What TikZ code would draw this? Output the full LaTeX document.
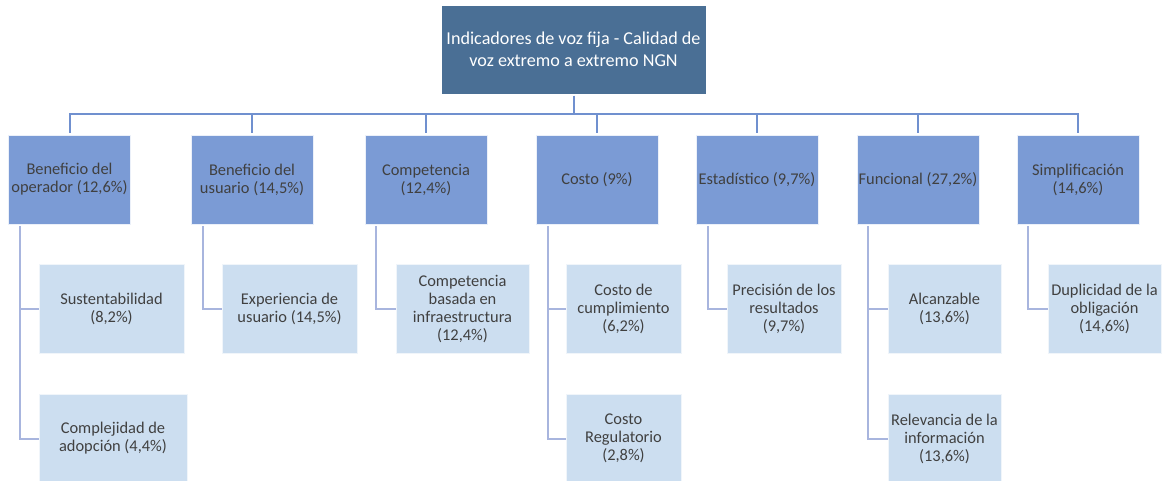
\documentclass[tikz,border=0pt]{standalone}
\usepackage{fontspec}
\setmainfont{Carlito}
\definecolor{topfill}{HTML}{4A6F95}
\definecolor{lvfill}{HTML}{7B9BD5}
\definecolor{chfill}{HTML}{CCDEF0}
\definecolor{busc}{HTML}{7090CF}
\definecolor{chline}{HTML}{A8B5DE}
\definecolor{txt}{HTML}{404040}
\begin{document}
\begin{tikzpicture}[x=0.75pt,y=-0.75pt,
  topbox/.style={fill=topfill,draw=white,line width=0.6pt,minimum width=198.75pt,minimum height=66.75pt,inner sep=0pt,align=center,text=white,font=\fontsize{13.6}{16.5}\selectfont},
  lvbox/.style={fill=lvfill,draw=white!85!lvfill,line width=0.6pt,minimum width=91.5pt,minimum height=66.75pt,inner sep=0pt,align=center,text=txt,font=\fontsize{12.3}{13.5}\selectfont},
  chbox/.style={fill=chfill,draw=white!70!chfill,line width=0.6pt,minimum height=66.75pt,inner sep=0pt,align=center,text=txt,font=\fontsize{12.3}{13.5}\selectfont},
  busline/.style={draw=busc,line width=1.5pt},
  chlink/.style={draw=chline,line width=1.5pt}]
\useasboundingbox (0,0) rectangle (1163,481);
\fill[white] (0,0) rectangle (1163,481);
% top
\node[topbox] (top) at (573.5,49.5) {Indicadores de voz fija - Calidad de\\voz extremo a extremo NGN};
% level 1
\node[lvbox] (p1) at (69.5,179.5) {Beneficio del\\operador (12,6\%)};
\node[lvbox] (p2) at (252,179.5) {Beneficio del\\usuario (14,5\%)};
\node[lvbox] (p3) at (426,179.5) {Competencia\\(12,4\%)};
\node[lvbox] (p4) at (597,179.5) {Costo (9\%)};
\node[lvbox] (p5) at (757,179.5) {Estadístico (9,7\%)};
\node[lvbox] (p6) at (918,179.5) {Funcional (27,2\%)};
\node[lvbox] (p7) at (1078,179.5) {Simplificación\\(14,6\%)};
% children
\node[chbox,minimum width=108.75pt] (c11) at (111.5,308.5) {Sustentabilidad\\(8,2\%)};
\node[chbox,minimum width=111pt] (c12) at (113,438.5) {Complejidad de\\adopción (4,4\%)};
\node[chbox,minimum width=101.25pt] (c21) at (289.5,308.5) {Experiencia de\\usuario (14,5\%)};
\node[chbox,minimum width=99.75pt] (c31) at (462.5,308.5) {Competencia\\basada en\\infraestructura\\(12,4\%)};
\node[chbox,minimum width=86.25pt] (c41) at (623.5,308.5) {Costo de\\cumplimiento\\(6,2\%)};
\node[chbox,minimum width=86.25pt] (c42) at (623.5,438.5) {Costo\\Regulatorio\\(2,8\%)};
\node[chbox,minimum width=85.5pt] (c51) at (784,308.5) {Precisión de los\\resultados\\(9,7\%)};
\node[chbox,minimum width=84.75pt] (c61) at (944.5,308.5) {Alcanzable\\(13,6\%)};
\node[chbox,minimum width=84.75pt] (c62) at (944.5,438.5) {Relevancia de la\\información\\(13,6\%)};
\node[chbox,minimum width=84.75pt] (c71) at (1104.5,308.5) {Duplicidad de la\\obligación\\(14,6\%)};
% bus
\coordinate (bus) at (573.5,114.5);
\draw[busline] ([yshift=-1pt]top.south) -- (bus);
\foreach \p in {p1,p2,p3,p4,p5,p6,p7}{
  \draw[busline] ([yshift=1.5pt]\p.north) |- (bus);
}
% child links
\draw[chlink] ([xshift=9pt,yshift=-1.5pt]p1.south west) |- (c11.west);
\draw[chlink] ([xshift=9pt,yshift=-1.5pt]p1.south west) |- (c12.west);
\draw[chlink] ([xshift=9pt,yshift=-1.5pt]p2.south west) |- (c21.west);
\draw[chlink] ([xshift=8.25pt,yshift=-1.5pt]p3.south west) |- (c31.west);
\draw[chlink] ([xshift=9pt,yshift=-1.5pt]p4.south west) |- (c41.west);
\draw[chlink] ([xshift=9pt,yshift=-1.5pt]p4.south west) |- (c42.west);
\draw[chlink] ([xshift=9pt,yshift=-1.5pt]p5.south west) |- (c51.west);
\draw[chlink] ([xshift=8.25pt,yshift=-1.5pt]p6.south west) |- (c61.west);
\draw[chlink] ([xshift=8.25pt,yshift=-1.5pt]p6.south west) |- (c62.west);
\draw[chlink] ([xshift=8.25pt,yshift=-1.5pt]p7.south west) |- (c71.west);
\end{tikzpicture}
\end{document}
